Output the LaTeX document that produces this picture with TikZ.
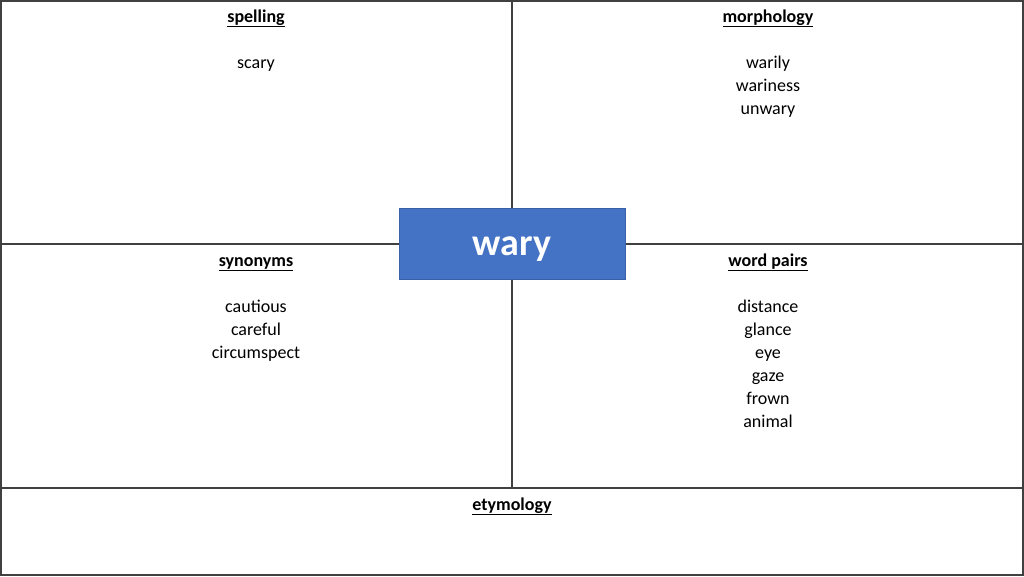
\documentclass[tikz,border=0pt]{standalone}
\usepackage{fontspec}
\setmainfont{Carlito}
\usetikzlibrary{positioning}

\definecolor{waryblue}{HTML}{4472C4}
\definecolor{gridgray}{HTML}{404040}

\tikzset{
  gridline/.style={draw=gridgray, line width=1.3pt},
  heading/.style={anchor=base, inner sep=0pt, font=\fontsize{18}{23}\selectfont\bfseries},
  listword/.style={anchor=base, inner sep=0pt, font=\fontsize{18}{23}\selectfont},
  headword/.style={fill=waryblue, draw=waryblue!85!black, line width=0.8pt, text=white,
    minimum width=226pt, minimum height=71pt, inner sep=0pt, text height=27pt, text depth=4pt,
    font=\fontsize{38}{40}\selectfont\bfseries}
}

\begin{document}
\begin{tikzpicture}[x=1pt,y=-1pt]
  \useasboundingbox (0,0) rectangle (1024,576);
  % grid
  \draw[gridline] (1,1) rectangle (1023,575);
  \draw[gridline] (512,1) -- (512,488);
  \draw[gridline] (1,244) -- (1023,244);
  \draw[gridline] (1,488) -- (1023,488);

  % quadrants
  \node[heading] (spelling) at (256,22) {\underline{spelling}};
  \foreach \w [count=\i] in {scary}
    \node[listword] (spell-\i) at (256,45+23*\i) {\w};

  \node[heading] (morphology) at (768,22) {\underline{morphology}};
  \foreach \w [count=\i] in {warily,wariness,unwary}
    \node[listword] (morph-\i) at (768,45+23*\i) {\w};

  \node[heading] (synonyms) at (256,266) {\underline{synonyms}};
  \foreach \w [count=\i] in {cautious,careful,circumspect}
    \node[listword] (syn-\i) at (256,289+23*\i) {\w};

  \node[heading] (pairs) at (768,266) {\underline{word pairs}};
  \foreach \w [count=\i] in {distance,glance,eye,gaze,frown,animal}
    \node[listword] (pair-\i) at (768,289+23*\i) {\w};

  \node[heading] (etymology) at (512,510) {\underline{etymology}};

  % centre word
  \node[headword] (wary) at (512,243.5) {wary};
\end{tikzpicture}
\end{document}
